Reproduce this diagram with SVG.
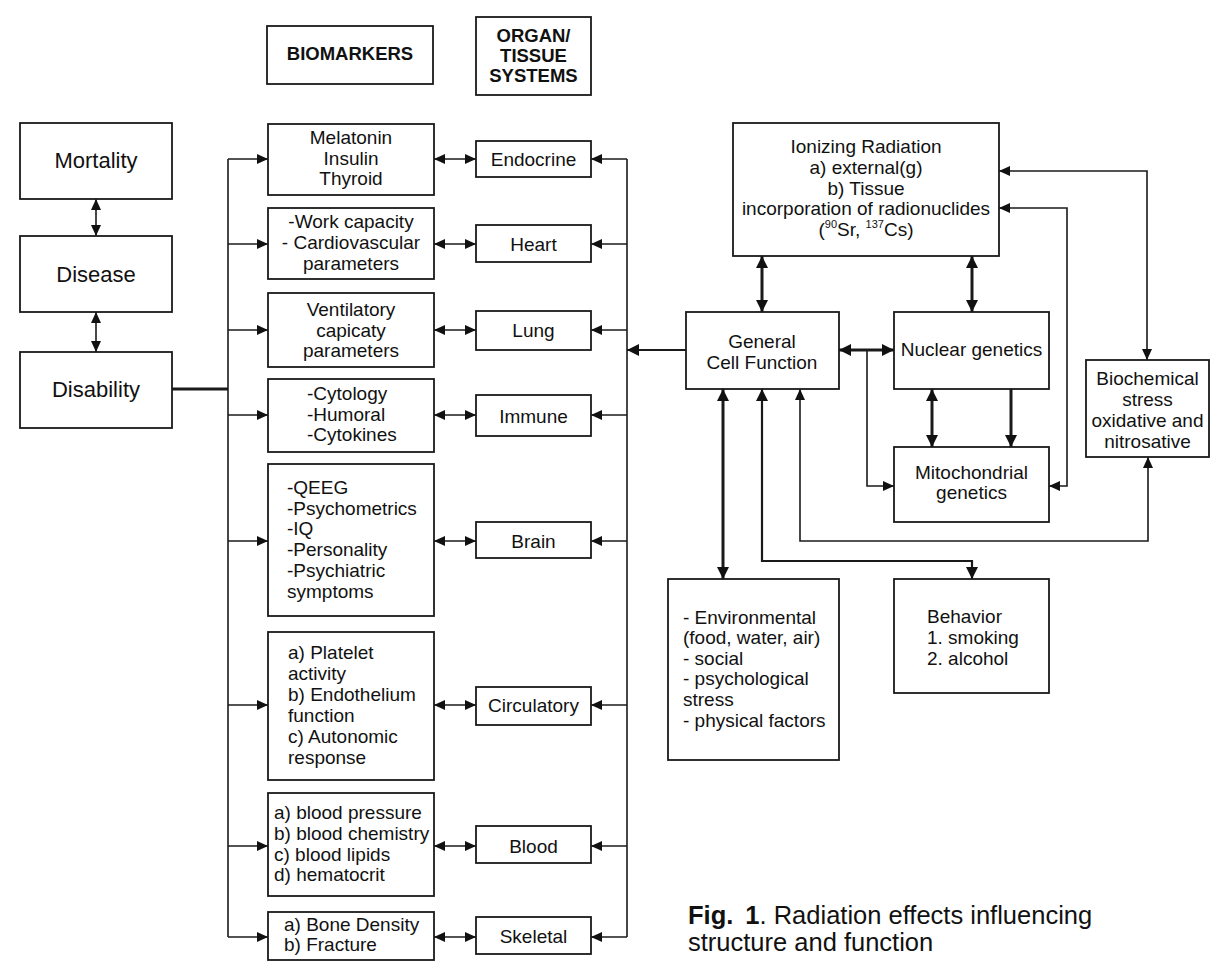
<svg xmlns="http://www.w3.org/2000/svg" width="1229" height="978" viewBox="0 0 1229 978">
<defs>
<style>
.box{fill:#fff;stroke:#1a1a1a;stroke-width:1.8}
text{font-family:"Liberation Sans",Arial,sans-serif;fill:#111;font-size:19px}
.c{text-anchor:middle}
.big{font-size:22px}
.hdr{font-size:18.5px;font-weight:bold}
.ln{fill:none;stroke:#1a1a1a;stroke-width:1.6}
.th{stroke-width:3}
.md{stroke-width:2.2}
.cap{font-size:25.5px}
.ab{marker-start:url(#a);marker-end:url(#a)}
.ae{marker-end:url(#a)}
.bb{marker-start:url(#b);marker-end:url(#b)}
.be{marker-end:url(#b)}
</style>
<marker id="a" viewBox="0 0 11 10" refX="11" refY="5" markerWidth="11" markerHeight="10" markerUnits="userSpaceOnUse" orient="auto-start-reverse"><path d="M0,0L11,5L0,10z" fill="#111"/></marker>
<marker id="b" viewBox="0 0 12 12" refX="12" refY="6" markerWidth="12" markerHeight="12" markerUnits="userSpaceOnUse" orient="auto-start-reverse"><path d="M0,0L12,6L0,12z" fill="#111"/></marker>
</defs>
<rect width="1229" height="978" fill="#fff"/>

<g id="connectors">
<path class="ln ab" d="M96,199V236"/>
<path class="ln ab" d="M96,312V352"/>
<path class="ln th" d="M172,389H228"/>
<path class="ln" d="M228,159V937"/>
<path class="ln ae" d="M228,159H268"/>
<path class="ln ae" d="M228,244H268"/>
<path class="ln ae" d="M228,330H268"/>
<path class="ln ae" d="M228,415H268"/>
<path class="ln ae" d="M228,541H268"/>
<path class="ln ae" d="M228,705H268"/>
<path class="ln ae" d="M228,846H268"/>
<path class="ln ae" d="M228,937H268"/>
<path class="ln ab" d="M434,159H476"/>
<path class="ln ab" d="M434,244H476"/>
<path class="ln ab" d="M434,330H476"/>
<path class="ln ab" d="M434,415H476"/>
<path class="ln ab" d="M434,541H476"/>
<path class="ln ab" d="M434,705H476"/>
<path class="ln ab" d="M434,846H476"/>
<path class="ln ab" d="M434,937H476"/>
<path class="ln" d="M627,159V937"/>
<path class="ln ae" d="M627,159H591"/>
<path class="ln ae" d="M627,244H591"/>
<path class="ln ae" d="M627,330H591"/>
<path class="ln ae" d="M627,415H591"/>
<path class="ln ae" d="M627,541H591"/>
<path class="ln ae" d="M627,705H591"/>
<path class="ln ae" d="M627,846H591"/>
<path class="ln ae" d="M627,937H591"/>
<path class="ln md be" d="M686,350H627"/>
<path class="ln th bb" d="M762,256V312"/>
<path class="ln th bb" d="M972,256V312"/>
<path class="ln th bb" d="M839,350H894"/>
<path class="ln ae" d="M867,350V486H894"/>
<path class="ln th bb" d="M932,389V447"/>
<path class="ln th be" d="M1011,389V447"/>
<path class="ln ab" d="M999,171H1147V360"/>
<path class="ln ab" d="M1049,486H1067V208H999"/>
<path class="ln ab" d="M1148,457V541H800V389"/>
<path class="ln th bb" d="M723,389V579"/>
<path class="ln md bb" d="M762,389V561H972V579"/>
</g>

<g id="hdr-biomarkers">
<rect class="box" x="267" y="26" width="166" height="58"/>
<text class="hdr c" x="350" y="60">BIOMARKERS</text>
</g>
<g id="hdr-organ">
<rect class="box" x="476" y="17" width="115" height="78"/>
<text class="hdr c" x="533.5" y="42">ORGAN/</text>
<text class="hdr c" x="533.5" y="62">TISSUE</text>
<text class="hdr c" x="533.5" y="82">SYSTEMS</text>
</g>

<g id="mortality">
<rect class="box" x="20" y="123" width="152" height="76"/>
<text class="big c" x="96" y="168">Mortality</text>
</g>
<g id="disease">
<rect class="box" x="20" y="236" width="152" height="76"/>
<text class="big c" x="96" y="282">Disease</text>
</g>
<g id="disability">
<rect class="box" x="20" y="352" width="152" height="76"/>
<text class="big c" x="96" y="397">Disability</text>
</g>

<g id="bm-endocrine">
<rect class="box" x="268" y="124" width="166" height="71"/>
<text class="c" x="351" y="144">Melatonin</text>
<text class="c" x="351" y="165">Insulin</text>
<text class="c" x="351" y="185">Thyroid</text>
</g>
<g id="bm-heart">
<rect class="box" x="268" y="208" width="166" height="71"/>
<text class="c" x="351" y="228">-Work capacity</text>
<text class="c" x="351" y="249">- Cardiovascular</text>
<text class="c" x="351" y="270">parameters</text>
</g>
<g id="bm-lung">
<rect class="box" x="268" y="293" width="166" height="74"/>
<text class="c" x="351" y="316">Ventilatory</text>
<text class="c" x="351" y="337">capicaty</text>
<text class="c" x="351" y="357">parameters</text>
</g>
<g id="bm-immune">
<rect class="box" x="268" y="379" width="166" height="73"/>
<text x="307" y="400">-Cytology</text>
<text x="307" y="421">-Humoral</text>
<text x="307" y="441">-Cytokines</text>
</g>
<g id="bm-brain">
<rect class="box" x="268" y="464" width="166" height="152"/>
<text x="287" y="494">-QEEG</text>
<text x="287" y="515">-Psychometrics</text>
<text x="287" y="535">-IQ</text>
<text x="287" y="556">-Personality</text>
<text x="287" y="577">-Psychiatric</text>
<text x="287" y="598">symptoms</text>
</g>
<g id="bm-circulatory">
<rect class="box" x="268" y="632" width="166" height="148"/>
<text x="288" y="659">a) Platelet</text>
<text x="288" y="680">activity</text>
<text x="288" y="701">b) Endothelium</text>
<text x="288" y="722">function</text>
<text x="288" y="743">c) Autonomic</text>
<text x="288" y="764">response</text>
</g>
<g id="bm-blood">
<rect class="box" x="268" y="793" width="166" height="103"/>
<text x="274" y="819">a) blood pressure</text>
<text x="274" y="840">b) blood chemistry</text>
<text x="274" y="861">c) blood lipids</text>
<text x="274" y="881">d) hematocrit</text>
</g>
<g id="bm-skeletal">
<rect class="box" x="268" y="912" width="166" height="48"/>
<text x="284" y="931">a) Bone Density</text>
<text x="284" y="951">b) Fracture</text>
</g>

<g id="endocrine">
<rect class="box" x="476" y="141" width="115" height="36"/>
<text class="c" x="533.5" y="166">Endocrine</text>
</g>
<g id="heart">
<rect class="box" x="476" y="225" width="115" height="37"/>
<text class="c" x="533.5" y="251">Heart</text>
</g>
<g id="lung">
<rect class="box" x="476" y="311" width="115" height="39"/>
<text class="c" x="533.5" y="337">Lung</text>
</g>
<g id="immune">
<rect class="box" x="476" y="395" width="115" height="41"/>
<text class="c" x="533.5" y="423">Immune</text>
</g>
<g id="brain">
<rect class="box" x="476" y="522" width="115" height="36"/>
<text class="c" x="533.5" y="548">Brain</text>
</g>
<g id="circulatory">
<rect class="box" x="476" y="687" width="115" height="38"/>
<text class="c" x="533.5" y="712">Circulatory</text>
</g>
<g id="blood">
<rect class="box" x="476" y="826" width="115" height="37"/>
<text class="c" x="533.5" y="853">Blood</text>
</g>
<g id="skeletal">
<rect class="box" x="476" y="917" width="115" height="37"/>
<text class="c" x="533.5" y="943">Skeletal</text>
</g>

<g id="ionizing">
<rect class="box" x="733" y="123" width="266" height="133"/>
<text class="c" x="866" y="153">Ionizing Radiation</text>
<text class="c" x="866" y="174">a) external(g)</text>
<text class="c" x="866" y="195">b) Tissue</text>
<text class="c" x="866" y="215">incorporation of radionuclides</text>
<text class="c" x="866" y="236">(<tspan font-size="11" dy="-8">90</tspan><tspan dy="8">Sr, </tspan><tspan font-size="11" dy="-8">137</tspan><tspan dy="8">Cs)</tspan></text>
</g>
<g id="general">
<rect class="box" x="686" y="312" width="153" height="77"/>
<text class="c" x="762" y="348">General</text>
<text class="c" x="762" y="369">Cell Function</text>
</g>
<g id="nuclear">
<rect class="box" x="894" y="312" width="155" height="77"/>
<text class="c" x="971.5" y="356">Nuclear genetics</text>
</g>
<g id="mitochondrial">
<rect class="box" x="894" y="447" width="155" height="75"/>
<text class="c" x="971.5" y="479">Mitochondrial</text>
<text class="c" x="971.5" y="499">genetics</text>
</g>
<g id="biochemical">
<rect class="box" x="1086" y="360" width="123" height="97"/>
<text class="c" x="1147.5" y="385">Biochemical</text>
<text class="c" x="1147.5" y="406">stress</text>
<text class="c" x="1147.5" y="427">oxidative and</text>
<text class="c" x="1147.5" y="448">nitrosative</text>
</g>
<g id="environmental">
<rect class="box" x="668" y="579" width="171" height="181"/>
<text x="683" y="624">- Environmental</text>
<text x="683" y="644">(food, water, air)</text>
<text x="683" y="665">- social</text>
<text x="683" y="685">- psychological</text>
<text x="683" y="706">stress</text>
<text x="683" y="727">- physical factors</text>
</g>
<g id="behavior">
<rect class="box" x="894" y="579" width="155" height="114"/>
<text x="927" y="623">Behavior</text>
<text x="927" y="644">1. smoking</text>
<text x="927" y="665">2. alcohol</text>
</g>

<g id="caption">
<text class="cap" x="688" y="924"><tspan font-weight="bold">Fig.</tspan><tspan font-weight="bold" dx="12">1</tspan>. Radiation effects influencing</text>
<text class="cap" x="688" y="951">structure and function</text>
</g>
</svg>
